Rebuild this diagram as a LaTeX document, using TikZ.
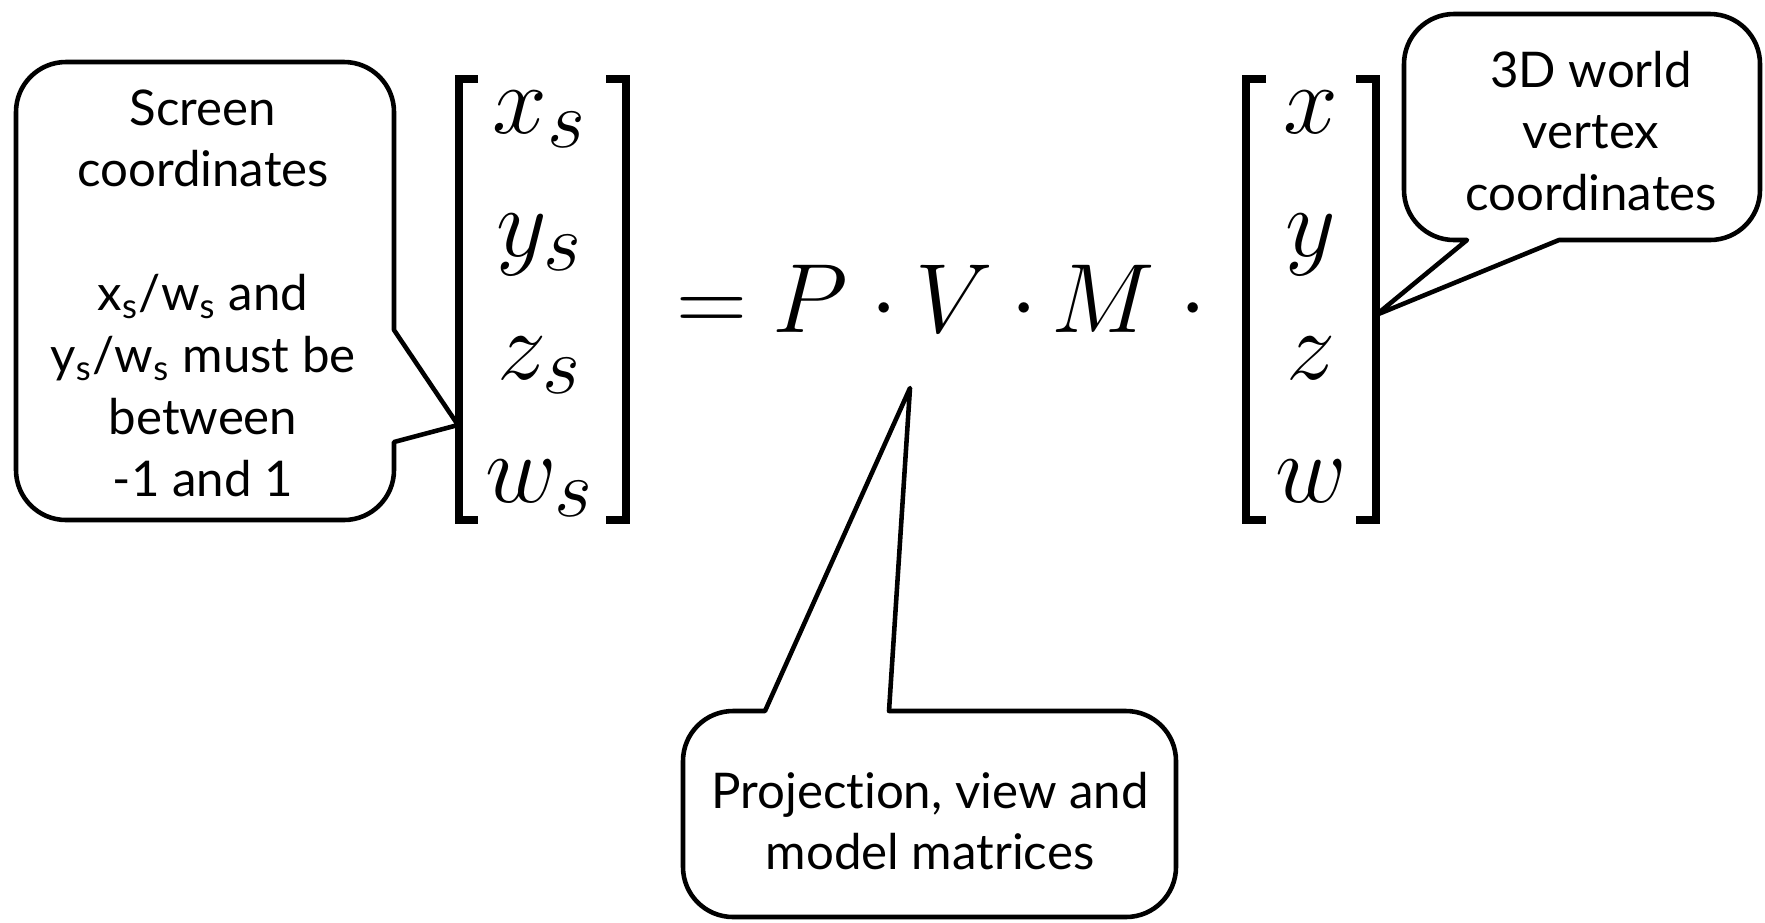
\documentclass[tikz,border=0pt]{standalone}
\usepackage{fontspec}
\setmainfont{Lato}[Ligatures=CommonOff]
\newcommand{\vecsym}[1]{\scalebox{1.125}{$#1$}}
\begin{document}
\begin{tikzpicture}[x=0.1mm, y=-0.1mm,
    bubble/.style={draw=black, line width=1.3pt, line join=round},
    bubbletxt/.style={font=\fontsize{14}{17.6}\selectfont, align=center, inner sep=0pt},
    mathtxt/.style={font=\Huge, inner sep=0pt},
    brack/.style={draw=black, line width=2.3pt}
  ]
  \useasboundingbox (0,0) rectangle (1765,922);
  % left vector
  \draw[brack] (478,79) -- (459,79) -- (459,520) -- (478,520);
  \draw[brack] (606,79) -- (626,79) -- (626,520) -- (606,520);
  \foreach \n/\e/\yy in {xs/x_s/133, ys/y_s/256, zs/z_s/379, ws/w_s/502} {
    \node[mathtxt, anchor=base] (\n) at (540,\yy) {\vecsym{\e}};
  }
  % P V M
  \foreach \n/\s/\xx in {eq/=/712, P/P/810, d1/\cdot/884, V/V/954, d2/\cdot/1024, M/M/1103, d3/\cdot/1193} {
    \node[mathtxt, anchor=base] (\n) at (\xx,332) {\vecsym{\s}};
  }
  % right vector
  \draw[brack] (1266,79) -- (1246,79) -- (1246,520) -- (1266,520);
  \draw[brack] (1356,79) -- (1376,79) -- (1376,520) -- (1356,520);
  \foreach \n/\yy in {x/133, y/256, z/379, w/502} {
    \node[mathtxt, anchor=base] (v\n) at (1311,\yy) {\vecsym{\n}};
  }
  % callouts
  \coordinate (lefttip) at (458,425);
  \coordinate (righttip) at (1376,315);
  \coordinate (bottomtip) at (910,388);
  \draw[bubble, rounded corners=5mm] (394,330) -- (394,62) -- (16,62) -- (16,520) -- (394,520)
    [sharp corners] -- (394,442) -- (lefttip) -- cycle;
  \draw[bubble, rounded corners=5mm] (1559,240) -- (1760,240) -- (1760,14) -- (1404,14) -- (1404,240)
    [sharp corners] -- (1467,240) -- (righttip) -- cycle;
  \draw[bubble, rounded corners=5mm] (765,711) -- (683,711) -- (683,917) -- (1176,917) -- (1176,711)
    [sharp corners] -- (889,711) -- (bottomtip) -- cycle;
  \node[bubbletxt] (screen) at (203,293) {Screen\\coordinates\\[17.6pt]x\textsubscript{s}/w\textsubscript{s} and\\y\textsubscript{s}/w\textsubscript{s} must be\\between\\-1 and 1};
  \node[bubbletxt] (world) at (1591,131) {3D world\\vertex\\coordinates};
  \node[bubbletxt] (pvmtxt) at (930,821) {Projection, view and\\model matrices};
\end{tikzpicture}
\end{document}
